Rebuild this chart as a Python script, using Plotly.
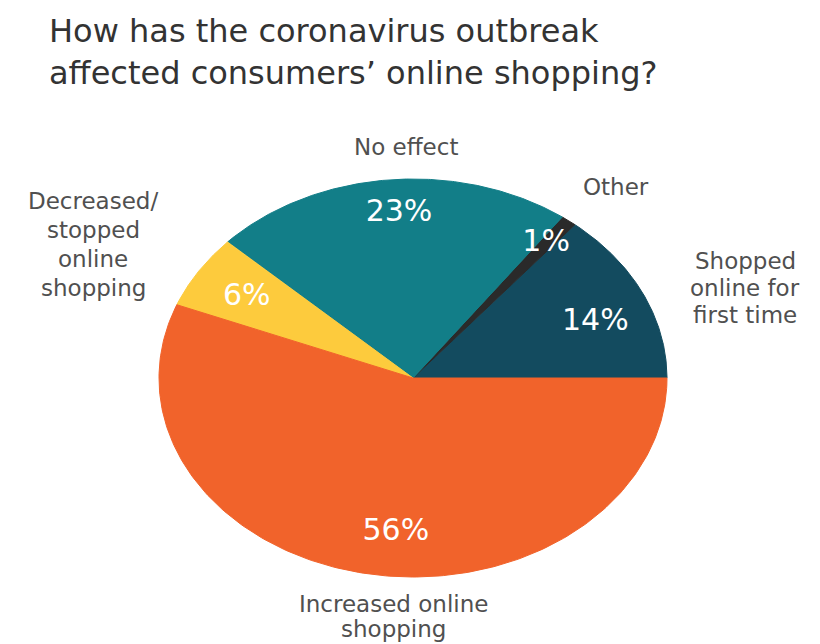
import numpy as np
import plotly.graph_objects as go

# ---------------- data ----------------
categories = ["Shopped online for first time", "Other", "No effect",
              "Decreased/stopped online shopping", "Increased online shopping"]
values = [14, 1, 23, 6, 56]
pct_labels = ["14%", "1%", "23%", "6%", "56%"]
outside_labels = ["Shopped<br>online for<br>first time", "Other", "No effect",
                  "Decreased/<br>stopped<br>online<br>shopping",
                  "Increased online<br>shopping"]
title_lines = ["How has the coronavirus outbreak",
               "affected consumers\u2019 online shopping?"]

# ---------------- style / layout ----------------
colors = ["#134B5F", "#2A2A2A", "#127E88", "#FDCB3D", "#F1632B"]
W, H = 820, 644
OFF = 8                                        # page body margin of the html page
CX, CY, RX, RY = 413, 378, 254, 199            # ellipse centre / radii (pixel axes)
START = 0.0                                    # first slice starts at 3 o'clock, counter-clockwise
inner_r = [0.77, 0.855, 0.83, 0.77, 0.777]     # radial fraction of the % labels
inner_nudge = [-4.0, 0.0, -1.6, 0.6, 5.8]      # angular nudge (deg) of % labels
# (x centre, y centre of first line, line spacing) for each outside label
outside_pos = [(745, 261, 27), (616, 187, 0), (406, 147, 0), (93, 201, 29), (393, 604, 25)]
label_font = dict(family="DejaVu Sans", size=23, color="#505050")
pct_font = dict(family="DejaVu Sans", size=30, color="#FFFFFF")
title_font = dict(family="DejaVu Sans", size=32, color="#333333")
title_pos = (47, 52)

fig = go.Figure()

total = float(sum(values))
a0 = START
mids = []
for val, col, name in zip(values, colors, categories):
    a1 = a0 + 360.0 * val / total
    th = np.radians(np.linspace(a0, a1, 200))
    xs = np.concatenate([[CX], CX + RX * np.cos(th), [CX]])
    ys = np.concatenate([[CY], CY - RY * np.sin(th), [CY]])
    fig.add_trace(go.Scatter(x=xs, y=ys, mode="lines", fill="toself",
                             fillcolor=col, line=dict(color=col, width=1),
                             name=name, hoverinfo="name", showlegend=False))
    mids.append((a0 + a1) / 2.0)
    a0 = a1

# percentage labels inside slices
px_, py_ = [], []
for m, r, nd in zip(mids, inner_r, inner_nudge):
    t = np.radians(m + nd)
    px_.append(CX + r * RX * np.cos(t))
    py_.append(CY - r * RY * np.sin(t))
fig.add_trace(go.Scatter(x=px_, y=py_, mode="text", text=pct_labels,
                         textfont=pct_font, textposition="middle center",
                         hoverinfo="skip", showlegend=False))

annotations = []
for txt, (x, y, dy) in zip(outside_labels, outside_pos):
    for i, line in enumerate(txt.split("<br>")):
        annotations.append(dict(x=x, y=y + dy * i, xref="x", yref="y", text=line,
                                showarrow=False, font=label_font, align="center",
                                xanchor="center", yanchor="middle"))
tx, ty = title_pos
annotations.append(dict(x=tx, y=ty, xref="x", yref="y", text="<br>".join(title_lines),
                        showarrow=False, xanchor="left", yanchor="middle",
                        align="left", font=title_font))

fig.update_layout(
    width=W - OFF, height=H - OFF, autosize=False,
    margin=dict(l=0, r=0, t=0, b=0, pad=0),
    paper_bgcolor="white", plot_bgcolor="white",
    xaxis=dict(range=[OFF, W], visible=False, fixedrange=True),
    yaxis=dict(range=[H, OFF], visible=False, fixedrange=True),
    annotations=annotations,
    showlegend=False,
)

fig.write_html("out.html")
